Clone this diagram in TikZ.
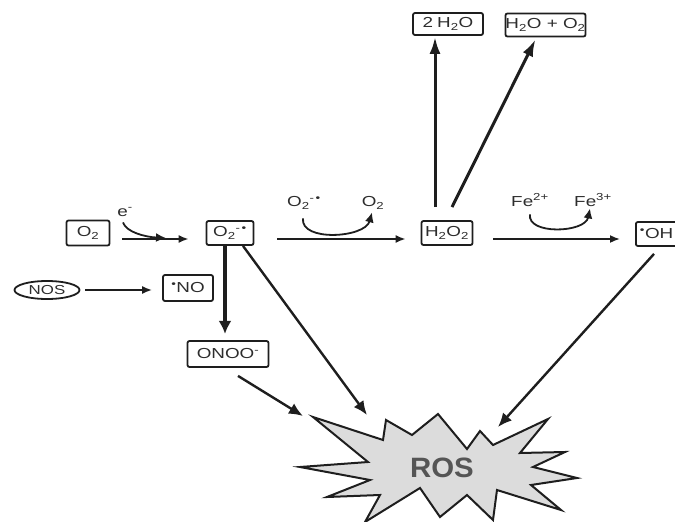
\documentclass[tikz,border=0pt]{standalone}
\usepackage{fontspec}
\setmainfont{Liberation Sans}[FakeStretch=1.3]
\newfontfamily\rosfont{Liberation Sans}[FakeStretch=1.05]
\usetikzlibrary{arrows.meta,calc,shapes.geometric}
\definecolor{ink}{RGB}{30,30,30}
\definecolor{labelgray}{RGB}{45,45,45}
\definecolor{starfill}{RGB}{220,220,220}
\definecolor{rosgray}{RGB}{85,85,85}
\newcommand{\lowtwo}{\textsubscript{2}}
\newcommand{\rad}{\textsuperscript{•}}
\begin{document}
\begin{tikzpicture}[x=1pt,y=-1pt,
  species/.style={draw=ink, line width=1.8pt, rounded corners=2pt, inner sep=0pt,
    text=labelgray, font=\fontsize{14.5}{14.5}\selectfont},
  plain/.style={inner sep=0pt, text=labelgray, font=\fontsize{14.5}{14.5}\selectfont},
  arr/.style={draw=ink, line width=1.7pt, -{Latex[length=10pt,width=8pt]}},
  curvearr/.style={draw=ink, line width=1.8pt, -{Latex[length=10pt,width=9pt]}},
  heavy/.style={draw=ink, line width=3.6pt, -{Latex[length=13pt,width=13pt]}},
  uparr/.style={draw=ink, line width=3pt, -{Latex[length=17pt,width=11pt]}},
  rosarr/.style={draw=ink, line width=2.4pt, -{Latex[length=14pt,width=12pt]}}]
\useasboundingbox (0,0) rectangle (675,522);
\clip (0,0) rectangle (675,522);

% main chain of species
\node[species, minimum width=43pt, minimum height=25pt] (o2) at (88,233) {O\lowtwo};
\node[species, minimum width=47pt, minimum height=24pt] (o2r) at (230,233) {O\lowtwo\textsuperscript{-\,•}};
\node[species, minimum width=51pt, minimum height=24pt] (h2o2) at (447,233) {H\lowtwo O\lowtwo};
\node[species, anchor=west, inner xsep=4pt, text width=42pt, align=left, minimum height=24pt] (oh) at (635,234) {\rad OH};

% decomposition products of hydrogen peroxide
\node[species, minimum width=70pt, minimum height=22pt] (water) at (448,24) {2\hspace{4pt}H\lowtwo O};
\node[species, minimum width=75pt, minimum height=23pt] (wateroxy) at (545.5,25) {H\lowtwo O + O\lowtwo};

% nitric oxide branch
\node[ellipse, draw=ink, line width=1.8pt, inner sep=0pt, minimum width=65pt, minimum height=18pt,
  text=labelgray, font=\fontsize{13}{13}\selectfont] (nos) at (47,290) {NOS};
\node[species, minimum width=50pt, minimum height=26pt] (no) at (188,288) {\rad NO};
\node[species, minimum width=81pt, minimum height=26pt] (onoo) at (228,354) {ONOO\textsuperscript{-}};

% cofactor labels
\node[plain] (el) at (125,212) {e\textsuperscript{-}};
\node[plain] (sup) at (304,203) {O\lowtwo\textsuperscript{-\,•}};
\node[plain] (oxy) at (373,203) {O\lowtwo};
\node[plain] (fe2) at (530,200) {Fe\textsuperscript{2+}};
\node[plain] (fe3) at (593,200) {Fe\textsuperscript{3+}};

% ROS burst
\draw[draw=ink, line width=2pt, fill=starfill, line join=miter]
  (313,417) -- (383,440) -- (386,420) -- (412,435) -- (438,414) -- (467,449)
  -- (480,431) -- (493,445) -- (548,419) -- (520,453) -- (565,452) -- (533,467)
  -- (577,478) -- (531,485) -- (561,510) -- (497,490) -- (493,520) -- (467,495)
  -- (440,517) -- (420,488) -- (365,522) -- (380,495) -- (327,497) -- (370,480)
  -- (300,467) -- (368,462) -- cycle;
\node[inner sep=0pt, text=rosgray, font=\rosfont\bfseries\fontsize{28}{28}\selectfont] (ros) at (442,468) {ROS};

% free ends of the arrows that meet the burst
\coordinate (rosA) at (303,416);
\coordinate (rosB) at (367,415);
\coordinate (rosC) at (498,427);

% reaction arrows along the chain
\draw[arr] ($(o2.east)+(12,6)$) -- ($(o2r.west)+(-17,6)$);
\draw[arr] ($(o2r.east)+(23,6)$) -- ($(h2o2.west)+(-15,6)$);
\draw[arr] ($(h2o2.east)+(20,6)$) -- ($(oh.west)+(-15,5)$);
\draw[arr] ($(nos.east)+(5,0)$) -- ($(no.west |- nos.east)+(-10,0)$);

% cofactor curves
\coordinate (ejoin) at (166,238);
\draw[curvearr] ($(el.south)+(-2,6)$) .. controls (126,232) and (145,237) .. (ejoin);
\draw[curvearr] ($(sup.south)+(-1,9)$) .. controls (300,242) and (365,238) .. ($(oxy.south)+(-1,3)$);
\draw[curvearr] ($(fe2.south)+(0,8)$) .. controls (527,235) and (585,233) .. ($(fe3.south)+(-3,2)$);

% peroxynitrite formation
\draw[heavy] ($(o2r.south)+(-5,0)$) -- ($(o2r.south -| onoo.north)+(-3,0)+(0,88)$);

% hydrogen peroxide breakdown
\draw[uparr] ($(h2o2.north)+(-12,-13)$) -- ($(water.south)+(-13,1)$);
\draw[uparr] ($(h2o2.north)+(5,-13)$) -- ($(wateroxy.south)+(-10,2)$);

% routes into the ROS pool
\draw[rosarr] ($(o2r.south)+(13,0)$) -- (rosB);
\draw[rosarr] ($(onoo.south)+(10,8)$) -- (rosA);
\draw[rosarr] ($(oh.south west)+(19,7)$) -- (rosC);
\end{tikzpicture}
\end{document}
